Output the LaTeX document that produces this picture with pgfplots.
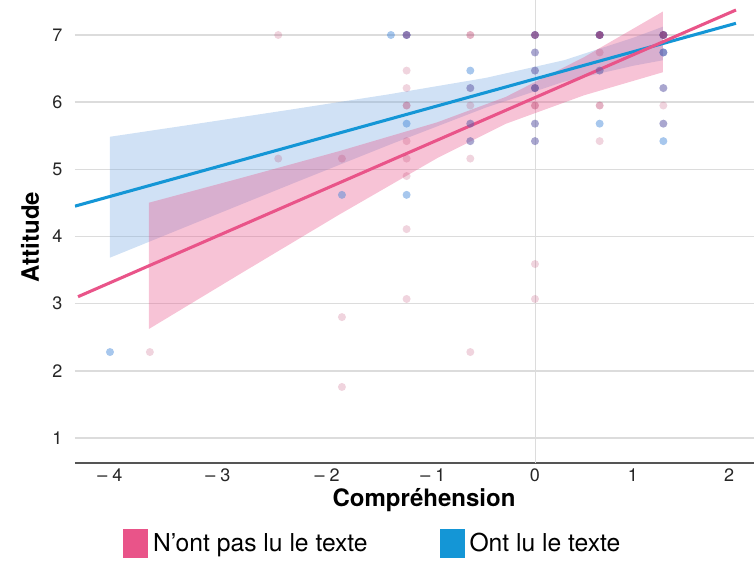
\documentclass[border=0pt]{standalone}
\usepackage{fontspec}
\setmainfont{TeX Gyre Heros}
\usepackage{pgfplots}
\pgfplotsset{compat=1.18}

\definecolor{pinkline}{HTML}{E95489}
\definecolor{blueline}{HTML}{1496D6}
\definecolor{pinkpoint}{RGB}{180,40,90}
\definecolor{bluepoint}{RGB}{60,130,215}
\definecolor{blueband}{HTML}{78AAE1}
\definecolor{gridgray}{HTML}{DCDCDC}
\definecolor{axisgray}{HTML}{555555}

\begin{document}
\begin{tikzpicture}
\begin{axis}[
    name=ax,
    scale only axis,
    width=509.25pt, height=347.25pt,
    xmin=-4.694, xmax=2.235,
    ymin=0.628, ymax=7.521,
    separate axis lines,
    axis x line*=bottom,
    axis y line*=left,
    x axis line style={color=axisgray, line width=1.1pt},
    y axis line style={draw=none},
    tick style={draw=none},
    xtick={-4.337,-3.235,-2.122,-1.041,0,1.0,1.98},
    xticklabels={–~4,–~3,–~2,–~1,0,1,2},
    ytick={1,2,3,4,5,6,7},
    /pgf/number format/assume math mode=true,
    ticklabel style={font=\fontsize{13.5}{16}\selectfont, text=black!85},
    yticklabel style={xshift=-6pt},
    xticklabel style={yshift=-1pt},
    ymajorgrids,
    major grid style={color=gridgray, line width=1pt},
    extra x ticks={0},
    extra x tick labels={},
    extra x tick style={grid=major, major grid style={color=gridgray, line width=0.7pt}},
    xlabel={Compréhension},
    xlabel style={at={(axis description cs:0.514,-0.081)}, anchor=center,
                  font=\bfseries\fontsize{18}{22}\selectfont},
    ylabel={Attitude},
    ylabel style={at={(axis description cs:-0.0663,0.488)}, anchor=center,
                  font=\bfseries\fontsize{18}{22}\selectfont},
    legend columns=2,
    legend style={at={(axis description cs:0.441,-0.173)}, anchor=center,
                  draw=none, fill=none, font=\fontsize{18.5}{22}\selectfont,
                  nodes={inner xsep=4pt},
                  /tikz/every even column/.append style={column sep=50pt}},
]

% Ont lu le texte : points (duplicates darken the dot)
\addplot[only marks, mark=*, mark size=3pt,
         mark options={draw opacity=0, fill=bluepoint, fill opacity=0.45}, forget plot]
coordinates {
(-4.337,2.28)
(-1.47,7.00)
(-1.97,4.62)
(-1.31,7.00) (-1.31,7.00) (-1.31,5.68) (-1.31,4.62)
(-0.66,6.47) (-0.66,6.21) (-0.66,5.68) (-0.66,5.42)
(0,7.00) (0,7.00) (0,6.74) (0,6.47) (0,6.21) (0,6.21) (0,5.68) (0,5.42)
(0.66,7.00) (0.66,7.00) (0.66,7.00) (0.66,6.47) (0.66,5.68)
(1.31,7.00) (1.31,7.00) (1.31,7.00) (1.31,6.74) (1.31,6.74) (1.31,6.21)
(1.31,5.68) (1.31,5.42)
};

% N'ont pas lu le texte : points
\addplot[only marks, mark=*, mark size=3pt,
         mark options={draw opacity=0, fill=pinkpoint, fill opacity=0.2}, forget plot]
coordinates {
(-3.93,2.28)
(-2.62,7.00) (-2.62,5.16)
(-1.97,5.16) (-1.97,2.80) (-1.97,1.76)
(-1.31,7.00) (-1.31,7.00) (-1.31,6.47) (-1.31,6.21) (-1.31,5.95) (-1.31,5.95)
(-1.31,5.42) (-1.31,5.16) (-1.31,4.90) (-1.31,4.11) (-1.31,3.07)
(-0.66,7.00) (-0.66,7.00) (-0.66,6.21) (-0.66,5.95) (-0.66,5.68) (-0.66,5.42)
(-0.66,5.16) (-0.66,2.28)
(0,7.00) (0,7.00) (0,7.00) (0,6.74) (0,6.47) (0,6.21) (0,6.21) (0,5.95) (0,5.95)
(0,5.68) (0,5.42) (0,3.59) (0,3.07)
(0.66,7.00) (0.66,7.00) (0.66,7.00) (0.66,7.00) (0.66,6.74) (0.66,6.47)
(0.66,5.95) (0.66,5.95) (0.66,5.42)
(1.31,7.00) (1.31,7.00) (1.31,7.00) (1.31,7.00) (1.31,6.74) (1.31,6.21)
(1.31,5.95) (1.31,5.68)
};

% confidence bands (upper edge, then lower edge back)
\addplot[draw=none, fill=blueband, fill opacity=0.35, forget plot]
coordinates {
(-4.337,5.485) (-3.5,5.667) (-2.5,5.888) (-1.5,6.115) (-0.5,6.362)
(0.3,6.626) (1.0,6.958) (1.306,7.124)
(1.306,6.624) (1.0,6.541) (0.3,6.306) (-0.5,5.920) (-1.5,5.357)
(-2.5,4.772) (-3.5,4.181) (-4.337,3.685)
} -- cycle;

\addplot[draw=none, fill=pinkline, fill opacity=0.35, forget plot]
coordinates {
(-3.94,4.503) (-3.0,4.871) (-2.0,5.270) (-1.0,5.699) (-0.3,6.077)
(0.5,6.670) (1.306,7.350)
(1.306,6.446) (0.5,6.102) (-0.3,5.677) (-1.0,5.165) (-2.0,4.324)
(-3.0,3.451) (-3.94,2.623)
} -- cycle;

% regression lines
\addplot[blueline, line width=2.3pt, forget plot]
coordinates {(-4.694,4.452) (2.051,7.174)};
\addplot[pinkline, line width=2.3pt, forget plot]
coordinates {(-4.663,3.104) (2.051,7.372)};

\addlegendimage{legend image code/.code={\fill[pinkline] (0pt,-10.5pt) rectangle (18pt,10.5pt);}}
\addlegendentry{N’ont pas lu le texte}
\addlegendimage{legend image code/.code={\fill[blueline] (0pt,-10.5pt) rectangle (18pt,10.5pt);}}
\addlegendentry{Ont lu le texte}
\end{axis}
\pgfresetboundingbox
\path[use as bounding box] ([xshift=-56.25pt,yshift=-73.5pt]ax.south west) rectangle (ax.north east);
\end{tikzpicture}
\end{document}
